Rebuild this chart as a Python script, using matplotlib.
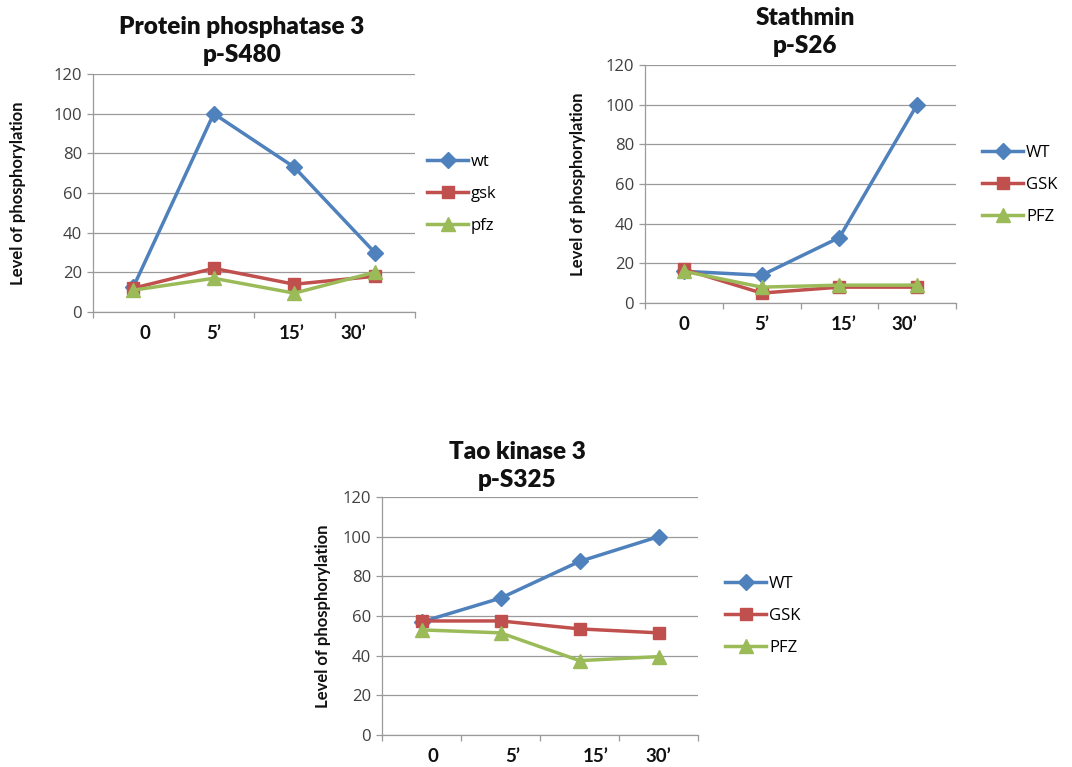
import matplotlib
matplotlib.use("Agg")
import matplotlib.pyplot as plt
import numpy as np

plt.rcParams['font.family'] = ['Lato', 'DejaVu Sans']

# ---------------- data ----------------
time_labels = ["0", "5\u2019", "15\u2019", "30\u2019"]

pp3_title = "Protein phosphatase 3\np-S480"
pp3_names = ["wt", "gsk", "pfz"]
pp3_wt = [12.5, 100, 73, 30]
pp3_gsk = [12, 22, 14, 18]
pp3_pfz = [11, 17, 9.5, 20]

stm_title = "Stathmin\np-S26"
stm_names = ["WT", "GSK", "PFZ"]
stm_wt = [16, 14, 33, 100]
stm_gsk = [17, 5, 8, 8]
stm_pfz = [16, 8, 9, 9]

tao_title = "Tao kinase 3\np-S325"
tao_names = ["WT", "GSK", "PFZ"]
tao_wt = [57, 69, 87.5, 100]
tao_gsk = [57.5, 57.5, 53.5, 51.5]
tao_pfz = [53, 51.5, 37.5, 39.5]

yticks = [0, 20, 40, 60, 80, 100, 120]
ylabel = "Level of phosphorylation"

# ---------------- style ----------------
colors = ["#4F81BD", "#C0504D", "#9BBB59"]
markers = ["D", "s", "^"]
msizes = [8, 9, 10]
grid_c = "#9a9a9a"

W, H = 1072, 767
fig = plt.figure(figsize=(W / 100, H / 100), dpi=100)


def px_axes(left, top, right, bottom):
    return fig.add_axes([left / W, 1 - bottom / H, (right - left) / W, (bottom - top) / H])


panels = [
    dict(box=(93, 74, 415, 312), title=pp3_title, title_xy=(242, 41),
         series=[pp3_wt, pp3_gsk, pp3_pfz], names=pp3_names,
         lab_off=[0.14, 0.0, -0.03, -0.27], ylab_x=18, leg=(430, 162)),
    dict(box=(645, 65, 956, 303), title=stm_title, title_xy=(805, 32),
         series=[stm_wt, stm_gsk, stm_pfz], names=stm_names,
         lab_off=[0.0, 0.0, 0.05, -0.17], ylab_x=578, leg=(985, 153)),
    dict(box=(382, 497, 698, 735), title=tao_title, title_xy=(517, 466),
         series=[tao_wt, tao_gsk, tao_pfz], names=tao_names,
         lab_off=[0.14, 0.15, 0.2, 0.0], ylab_x=323, leg=(728, 584)),
]

x = np.arange(len(time_labels))

for p in panels:
    l, t, r, b = p["box"]
    ax = px_axes(l, t, r, b)
    handles = []
    for vals, c, m, ms, nm in zip(p["series"], colors, markers, msizes, p["names"]):
        h, = ax.plot(x, vals, color=c, lw=2.5, marker=m, markersize=ms,
                     markerfacecolor=c, markeredgecolor=c, label=nm, zorder=3,
                     solid_joinstyle="round")
        handles.append(h)
    ax.set_xlim(-0.5, len(time_labels) - 0.5)
    ax.set_ylim(0, 120)
    ax.set_yticks(yticks)
    ax.set_yticklabels([str(v) for v in yticks], fontsize=12, color="#404040",
                       family=["Open Sans", "DejaVu Sans"])
    ax.yaxis.grid(True, color=grid_c, lw=0.9, zorder=0)
    ax.set_axisbelow(True)
    ax.set_xticks(np.arange(-0.5, len(time_labels), 1.0))
    ax.set_xticklabels([])
    ax.tick_params(axis="both", direction="out", length=4, width=0.9, color=grid_c, pad=4)
    for s in ["top", "right"]:
        ax.spines[s].set_visible(False)
    for s in ["left", "bottom"]:
        ax.spines[s].set_color(grid_c)
        ax.spines[s].set_linewidth(0.9)
    # category labels (manually offset as in the original)
    for xi, lab, off in zip(x, time_labels, p["lab_off"]):
        ax.text(xi + off, -0.09, lab, transform=ax.get_xaxis_transform(),
                ha="center", va="center", fontsize=13.5, fontweight="bold", color="#111111")
    # title
    tx, ty = p["title_xy"]
    fig.text(tx / W, 1 - ty / H, p["title"], ha="center", va="center",
             fontsize=17.5, fontweight="heavy", linespacing=1.3, color="#111111")
    # y label
    fig.text(p["ylab_x"] / W, 1 - ((t + b) / 2) / H, ylabel, rotation=90,
             ha="center", va="center", fontsize=12, fontweight="bold", color="#111111")
    # legend
    lx, ly = p["leg"]
    fig.legend(handles=handles, loc="upper left",
               bbox_to_anchor=(lx / W - 0.003, 1 - (ly - 8) / H),
               frameon=False, handlelength=2.5, handletextpad=0.15,
               labelspacing=0.95, borderaxespad=0, borderpad=0,
               prop={"family": ["Open Sans", "DejaVu Sans"], "size": 12})

fig.savefig("out.png", dpi=100, facecolor="white")
